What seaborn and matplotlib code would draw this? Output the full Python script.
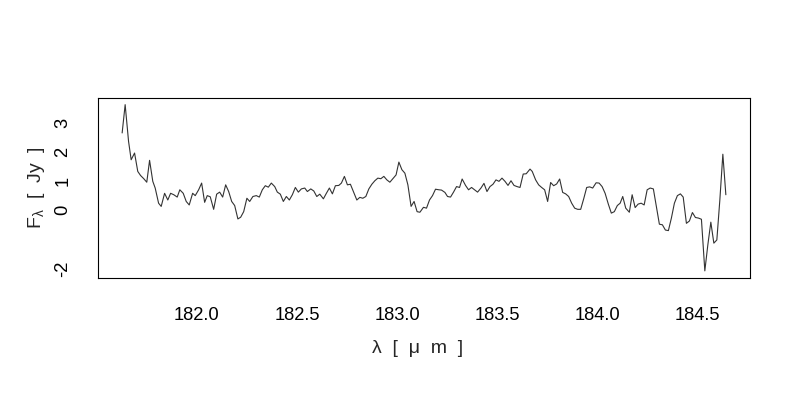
import numpy as np
import pandas as pd
import seaborn as sns
import matplotlib
matplotlib.use("Agg")
import matplotlib.pyplot as plt

# spectrum (wavelength in micron, flux in Jy)
wavelength = [
    181.627, 181.642, 181.659, 181.672, 181.689, 181.705, 181.719, 181.735, 181.750, 181.764,
    181.780, 181.792, 181.809, 181.822, 181.839, 181.855, 181.869, 181.885, 181.902, 181.915,
    181.932, 181.947, 181.962, 181.979, 181.992, 182.009, 182.024, 182.039, 182.052, 182.067,
    182.084, 182.099, 182.114, 182.129, 182.144, 182.159, 182.174, 182.189, 182.205, 182.219,
    182.234, 182.250, 182.264, 182.280, 182.297, 182.312, 182.327, 182.342, 182.357, 182.372,
    182.389, 182.402, 182.417, 182.432, 182.447, 182.462, 182.477, 182.492, 182.507, 182.522,
    182.539, 182.552, 182.569, 182.584, 182.599, 182.614, 182.632, 182.647, 182.662, 182.677,
    182.692, 182.709, 182.722, 182.737, 182.752, 182.767, 182.782, 182.799, 182.814, 182.829,
    182.844, 182.859, 182.874, 182.889, 182.904, 182.919, 182.934, 182.949, 182.964, 182.979,
    182.995, 183.009, 183.024, 183.039, 183.054, 183.070, 183.085, 183.100, 183.114, 183.132,
    183.147, 183.162, 183.177, 183.192, 183.209, 183.222, 183.239, 183.252, 183.267, 183.282,
    183.297, 183.312, 183.325, 183.342, 183.357, 183.372, 183.387, 183.402, 183.419, 183.434,
    183.449, 183.464, 183.479, 183.494, 183.509, 183.524, 183.539, 183.554, 183.569, 183.584,
    183.599, 183.614, 183.630, 183.645, 183.664, 183.675, 183.692, 183.707, 183.722, 183.737,
    183.752, 183.767, 183.782, 183.797, 183.812, 183.827, 183.842, 183.857, 183.872, 183.887,
    183.902, 183.917, 183.932, 183.947, 183.962, 183.977, 183.994, 184.009, 184.024, 184.039,
    184.055, 184.070, 184.085, 184.100, 184.114, 184.127, 184.142, 184.160, 184.174, 184.189,
    184.204, 184.219, 184.234, 184.249, 184.264, 184.280, 184.295, 184.310, 184.325, 184.340,
    184.355, 184.370, 184.385, 184.400, 184.415, 184.429, 184.445, 184.460, 184.475, 184.490,
    184.505, 184.520, 184.537, 184.552, 184.567, 184.582, 184.597, 184.612, 184.627, 184.642,
]
flux = [
    2.65, 3.62, 2.36, 1.73, 1.96, 1.33, 1.19, 1.08, 0.96, 1.71,
    0.99, 0.76, 0.24, 0.13, 0.58, 0.35, 0.58, 0.53, 0.45, 0.70,
    0.58, 0.30, 0.18, 0.58, 0.50, 0.70, 0.93, 0.27, 0.50, 0.46,
    0.03, 0.55, 0.62, 0.45, 0.87, 0.64, 0.30, 0.16, -0.30, -0.24,
    -0.05, 0.41, 0.30, 0.47, 0.50, 0.45, 0.70, 0.84, 0.79, 0.93,
    0.81, 0.62, 0.55, 0.30, 0.47, 0.35, 0.53, 0.78, 0.62, 0.73,
    0.76, 0.64, 0.73, 0.66, 0.47, 0.55, 0.39, 0.58, 0.76, 0.56,
    0.84, 0.85, 0.93, 1.16, 0.87, 0.89, 0.64, 0.35, 0.44, 0.41,
    0.47, 0.73, 0.89, 1.01, 1.10, 1.08, 1.16, 1.04, 0.96, 1.08,
    1.21, 1.65, 1.39, 1.27, 0.87, 0.13, 0.30, -0.05, -0.07, 0.10,
    0.07, 0.35, 0.50, 0.72, 0.70, 0.69, 0.61, 0.47, 0.45, 0.62,
    0.81, 0.78, 1.07, 0.85, 0.70, 0.78, 0.70, 0.62, 0.76, 0.92,
    0.64, 0.81, 0.89, 1.04, 0.99, 1.10, 0.99, 0.85, 1.01, 0.85,
    0.81, 0.78, 1.24, 1.25, 1.41, 1.33, 1.04, 0.87, 0.78, 0.70,
    0.30, 0.95, 0.84, 0.90, 1.07, 0.61, 0.56, 0.47, 0.24, 0.07,
    0.03, 0.03, 0.39, 0.78, 0.80, 0.76, 0.94, 0.93, 0.81, 0.58,
    0.21, -0.10, -0.05, 0.16, 0.24, 0.47, 0.07, -0.07, 0.53, 0.09,
    0.21, 0.24, 0.18, 0.70, 0.76, 0.73, 0.13, -0.48, -0.50, -0.68,
    -0.70, -0.27, 0.24, 0.50, 0.56, 0.45, -0.45, -0.37, -0.08, -0.25,
    -0.27, -0.31, -2.08, -1.19, -0.41, -1.13, -1.02, 0.35, 1.92, 0.53,
]

x_ticks = [182.0, 182.5, 183.0, 183.5, 184.0, 184.5]
x_tick_labels = ["182.0", "182.5", "183.0", "183.5", "184.0", "184.5"]
y_ticks = [-2, -1, 0, 1, 2, 3]
y_tick_labels = ["-2", "", "0", "1", "2", "3"]

df = pd.DataFrame({"wavelength": wavelength, "flux": flux})

sns.set_theme(style="white")
plt.rcParams["font.family"] = ["Liberation Sans", "DejaVu Sans"]
plt.rcParams["mathtext.fontset"] = "custom"
plt.rcParams["mathtext.rm"] = "Liberation Sans"
plt.rcParams["mathtext.it"] = "Liberation Sans"
plt.rcParams["axes.unicode_minus"] = False

fig = plt.figure(figsize=(8, 4), dpi=100)
ax = fig.add_axes([0.1225, 0.30625, 0.815, 0.44875])

sns.lineplot(data=df, x="wavelength", y="flux", sort=False, estimator=None,
             color="#333333", linewidth=0.8, ax=ax)

# R-like 4% padding around the data
ax.margins(x=0.04, y=0.04)

ax.set_xticks(x_ticks)
ax.set_xticklabels(x_tick_labels)
ax.set_yticks(y_ticks)
ax.set_yticklabels(y_tick_labels, rotation=90, va="center")
ax.tick_params(direction="in", length=4, width=0.8, colors="black", labelsize=13.2)
ax.tick_params(axis="x", pad=21)
ax.tick_params(axis="y", pad=19)

for s in ax.spines.values():
    s.set_visible(True)
    s.set_color("black")
    s.set_linewidth(0.8)

ax.set_xlabel("λ  [  μ  m  ]", fontsize=14)
ax.xaxis.label.set_va("center")
ax.xaxis.set_label_coords(0.49, -0.398)
ax.set_ylabel(r"F$_{\lambda}$  [  Jy  ]", fontsize=14)
ax.yaxis.label.set_va("center")
ax.yaxis.set_label_coords(-0.095, 0.5)

fig.savefig("out.png", dpi=100)
